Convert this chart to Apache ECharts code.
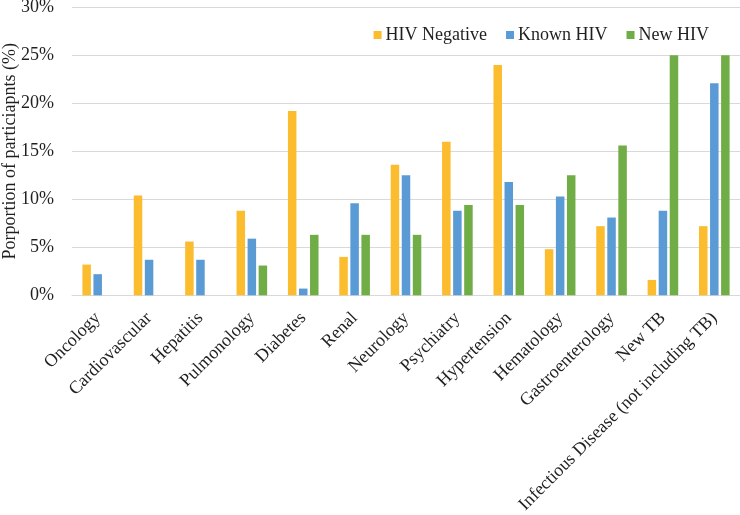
<!DOCTYPE html>
<html>
<head>
<meta charset="utf-8">
<script src="https://cdn.jsdelivr.net/npm/echarts@6/dist/echarts.min.js"></script>
<style>html,body{margin:0;padding:0;background:#fff}#c{width:740px;height:515px}</style>
</head>
<body>
<div id="c"></div>
<script>
const categories = ["Oncology","Cardiovascular","Hepatitis","Pulmonology","Diabetes","Renal","Neurology","Psychiatry","Hypertension","Hematology","Gastroenterology","New TB","Infectious Disease (not including TB)"];
const hivNegative = [3.2,10.4,5.6,8.8,19.2,4.0,13.6,16.0,24.0,4.8,7.2,1.6,7.2];
const knownHIV = [2.2,3.7,3.7,5.9,0.7,9.6,12.5,8.8,11.8,10.3,8.1,8.8,22.1];
const newHIV = [0,0,0,3.1,6.3,6.3,6.3,9.4,9.4,12.5,15.6,25,25];
const seriesNames = ["HIV Negative","Known HIV","New HIV"];
const yTicks = {min:0, max:30, interval:5};

const font = "'Liberation Serif','Times New Roman',serif";
const chart = echarts.init(document.getElementById('c'), null, {renderer:'canvas'});
const mk = (name, data, color) => ({
  name, type:'bar', data, barWidth:8.5, barGap:'30%',
  itemStyle:{color}, emphasis:{disabled:true}
});
chart.setOption({
  animation:false,
  textStyle:{fontFamily:font},
  legend:{
    right:26, top:21, icon:'rect', itemWidth:8, itemHeight:8, itemGap:19,
    textStyle:{fontFamily:font, fontSize:18, color:'#1f1f1f', padding:[0,0,0,-1]},
    data:seriesNames
  },
  grid:{left:72, right:0, top:7.3, bottom:219.7, containLabel:false, outerBoundsMode:'none'},
  xAxis:{
    type:'category', data:categories,
    axisLine:{lineStyle:{color:'#d9d9d9', width:1}},
    axisTick:{show:false},
    axisLabel:{rotate:45, interval:0, margin:20, fontFamily:font, fontSize:18, color:'#1f1f1f'}
  },
  yAxis:{
    type:'value', min:yTicks.min, max:yTicks.max, interval:yTicks.interval,
    name:'Porportion of particiapnts (%)', nameLocation:'middle', nameGap:53, nameMoveOverlap:false,
    nameTextStyle:{fontFamily:font, fontSize:18, color:'#1f1f1f'},
    axisLabel:{formatter:'{value}%', margin:18, fontFamily:font, fontSize:18, color:'#1f1f1f'},
    axisLine:{show:false}, axisTick:{show:false},
    splitLine:{lineStyle:{color:'#d9d9d9', width:1}}
  },
  series:[
    mk(seriesNames[0], hivNegative, '#FBBC2E'),
    mk(seriesNames[1], knownHIV, '#5B9BD5'),
    mk(seriesNames[2], newHIV, '#70AD47')
  ]
});
</script>
</body>
</html>
